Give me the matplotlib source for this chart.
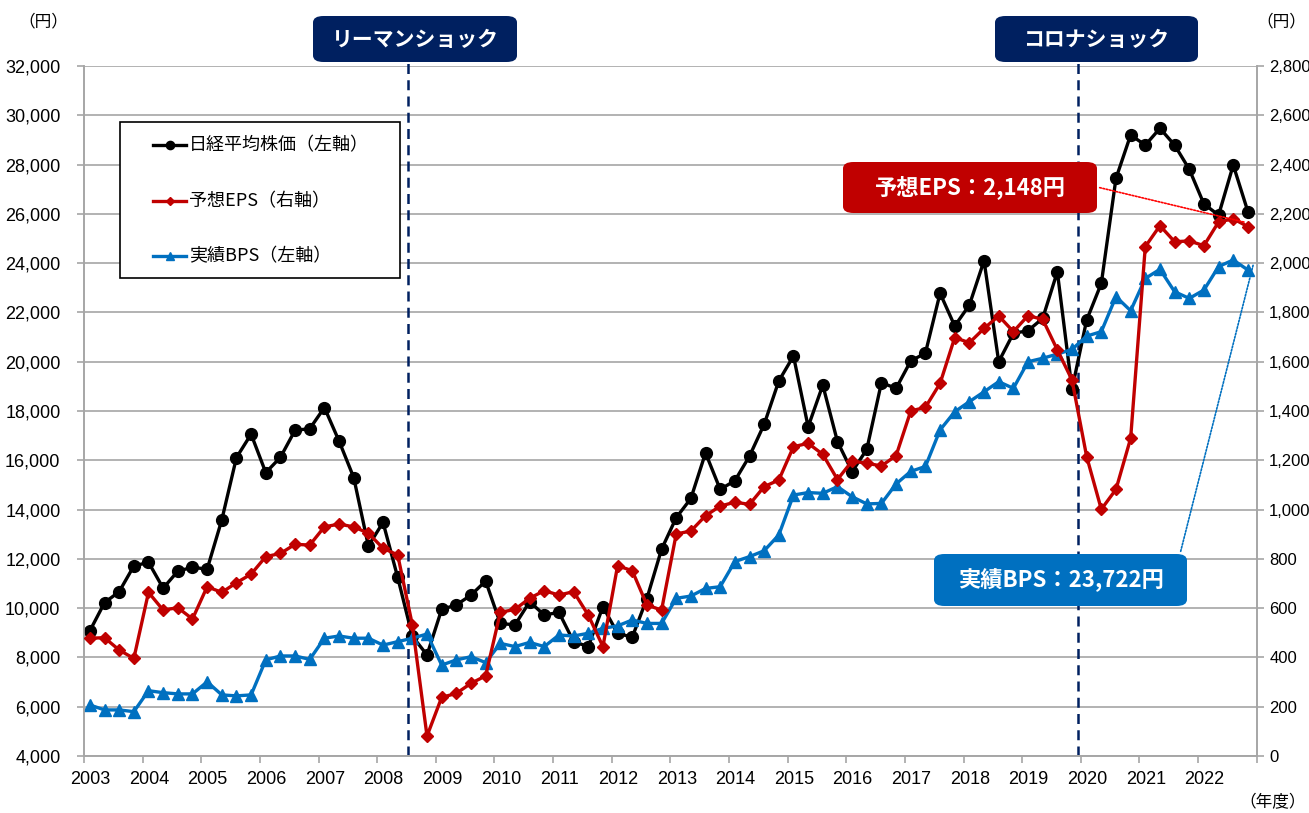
import numpy as np
import matplotlib
matplotlib.use("Agg")
import matplotlib.pyplot as plt
from matplotlib.patches import FancyBboxPatch, Rectangle
from matplotlib.lines import Line2D
from matplotlib.ticker import FuncFormatter, NullFormatter

JP = ['Noto Sans CJK JP', 'DejaVu Sans']
NUM = ['Liberation Sans', 'Noto Sans CJK JP']

# quarterly data, FY2003 - FY2022
nikkei = [9080, 10220, 10670, 11710, 11860, 10810, 11500, 11660, 11580, 13580,
          16110, 17060, 15500, 16120, 17220, 17280, 18140, 16780, 15300, 12520,
          13480, 11250, 8860, 8100, 9950, 10130, 10530, 11100, 9380, 9320,
          10260, 9720, 9830, 8640, 8440, 10060, 8980, 8820, 10390, 12390,
          13670, 14450, 16300, 14820, 15170, 16170, 17460, 19220, 20230, 17360,
          19050, 16760, 15540, 16440, 19150, 18920, 20030, 20350, 22780, 21450,
          22300, 24100, 20000, 21150, 21260, 21760, 23650, 18880, 21690, 23180,
          27440, 29200, 28790, 29470, 28790, 27810, 26400, 25950, 27980, 26090]
eps = [478, 480, 430, 396, 664, 592, 602, 556, 687, 664,
       703, 738, 809, 822, 859, 856, 930, 941, 930, 904,
       843, 816, 532, 81, 238, 254, 295, 325, 583, 595,
       640, 671, 653, 667, 572, 444, 772, 752, 613, 592,
       901, 913, 975, 1014, 1030, 1021, 1093, 1120, 1255, 1269,
       1224, 1122, 1197, 1188, 1177, 1219, 1400, 1415, 1512, 1698,
       1677, 1735, 1786, 1722, 1787, 1772, 1648, 1526, 1215, 1001,
       1082, 1289, 2067, 2152, 2087, 2090, 2071, 2167, 2180, 2148]
bps = [6070, 5870, 5870, 5800, 6650, 6570, 6520, 6520, 7010, 6480,
       6440, 6480, 7900, 8060, 8060, 7920, 8780, 8870, 8780, 8780,
       8500, 8640, 8780, 8950, 7690, 7900, 8030, 7790, 8570, 8440,
       8610, 8440, 8910, 8870, 8980, 9180, 9280, 9520, 9380, 9380,
       10400, 10490, 10800, 10870, 11890, 12090, 12330, 12970, 14590, 14690,
       14660, 14930, 14520, 14230, 14250, 15040, 15550, 15750, 17230, 17970,
       18380, 18780, 19190, 18920, 20000, 20140, 20310, 20500, 21040, 21220,
       22640, 22070, 23380, 23750, 22840, 22570, 22910, 23860, 24130, 23722]
years = list(range(2003, 2023))
x = 2003.1 + 0.25 * np.arange(len(nikkei))

lehman_x = 2008.53
corona_x = 2019.95

W, H = 1309, 813
def fx(px):
    return px / W
def fy(py):
    return 1 - py / H

fig = plt.figure(figsize=(W / 100, H / 100), dpi=100)
ax = fig.add_axes([fx(84), fy(756), (1256.7 - 84) / W, 690 / H])
ax2 = ax.twinx()

gray = '#a6a6a6'
ax.set_xlim(2003, 2023)
ax.set_ylim(4000, 32000)
ax2.set_ylim(0, 2800)
ax.set_yticks(np.arange(4000, 32001, 2000))
ax2.set_yticks(np.arange(0, 2801, 200))
comma = FuncFormatter(lambda v, p: f'{int(v):,}')
ax.yaxis.set_major_formatter(comma)
ax2.yaxis.set_major_formatter(comma)
ax.grid(axis='y', color=gray, lw=1.2, zorder=0)
ax.set_axisbelow(True)

ax.set_xticks(range(2003, 2024))
ax.xaxis.set_major_formatter(NullFormatter())
ax.set_xticks([y + 0.11 for y in years], minor=True)
ax.set_xticklabels([str(y) for y in years], minor=True)
ax.tick_params(axis='x', which='major', length=5, color=gray, width=1.2)
ax.tick_params(axis='x', which='minor', length=0, pad=11, labelsize=13)
ax.tick_params(axis='y', length=5, color=gray, width=1.2, pad=12, labelsize=13)
ax2.tick_params(axis='y', length=5, color=gray, width=1.2, pad=4, labelsize=12)
for a in (ax, ax2):
    for lab in a.get_xticklabels(minor=True) + a.get_yticklabels():
        lab.set_family(NUM)
    for s in ('left', 'right', 'bottom'):
        a.spines[s].set_color(gray)
        a.spines[s].set_linewidth(1.2)
    a.spines['top'].set_visible(False)

for xv in (lehman_x, corona_x):
    ax.axvline(xv, ymin=0, ymax=1.006, color='#002060', lw=1.8,
               dashes=(4, 2.5), clip_on=False, zorder=1)

styles = {
    'nikkei': dict(color='black', marker='o', ms=8.5),
    'eps': dict(color='#C00000', marker='D', ms=6.5),
    'bps': dict(color='#0070C0', marker='^', ms=9),
}
ax.plot(x, nikkei, lw=2.4, zorder=3, **styles['nikkei'])
ax.plot(x, bps, lw=2.4, zorder=4, **styles['bps'])
ax2.plot(x, eps, lw=2.4, zorder=3, **styles['eps'])

# legend box drawn by hand so the handle inset matches
fig.patches.append(Rectangle((fx(120), fy(278)), fx(400) - fx(120), fy(122) - fy(278),
                             transform=fig.transFigure, facecolor='white',
                             edgecolor='black', lw=1.2, zorder=8))
legend_rows = [('日経平均株価（左軸）', 'nikkei', 145),
               ('予想EPS（右軸）', 'eps', 201),
               ('実績BPS（左軸）', 'bps', 256)]
for text, key, py in legend_rows:
    st = dict(styles[key])
    st['ms'] = st['ms'] * 0.7
    fig.lines.append(Line2D([fx(153), fx(186)], [fy(py), fy(py)], lw=2.4,
                            markevery=[], transform=fig.transFigure, zorder=9,
                            color=st['color']))
    fig.lines.append(Line2D([fx(169.5)], [fy(py)], transform=fig.transFigure,
                            zorder=9, ls='none', **st))
    fig.text(fx(189), fy(py), text, family=JP, fontsize=13, ha='left',
             va='center', zorder=9)

def label_box(x0, y0, x1, y1, text, color, size):
    box = FancyBboxPatch((fx(x0), fy(y1)), fx(x1) - fx(x0), fy(y0) - fy(y1),
                         boxstyle='round,pad=0,rounding_size=0.008',
                         transform=fig.transFigure, facecolor=color,
                         edgecolor='none', zorder=10)
    fig.patches.append(box)
    fig.text(fx((x0 + x1) / 2), fy((y0 + y1) / 2), text, color='white',
             fontsize=size, fontweight='bold', family=JP,
             ha='center', va='center', zorder=11)

label_box(313, 16, 517, 62, 'リーマンショック', '#002060', 15)
label_box(995, 16, 1198, 62, 'コロナショック', '#002060', 15)
label_box(843, 162, 1097, 213, '予想EPS：2,148円', '#C00000', 16)
label_box(934, 554, 1187, 606, '実績BPS：23,722円', '#0070C0', 16)

ax2.annotate('', xy=(x[-1], eps[-1] + 15), xycoords='data',
             xytext=(fx(1097), fy(187)), textcoords='figure fraction',
             arrowprops=dict(arrowstyle='-', color='red', lw=1.2,
                             linestyle=(0, (1, 1))), zorder=9)
ax.annotate('', xy=(x[-1] + 0.1, bps[-1] + 300), xycoords='data',
            xytext=(fx(1180), fy(554)), textcoords='figure fraction',
            arrowprops=dict(arrowstyle='-', color='#0070C0', lw=1.2,
                            linestyle=(0, (1, 1))), zorder=9)

fig.text(fx(18), fy(22), '（円）', family=JP, fontsize=12, ha='left', va='center')
fig.text(fx(1306), fy(22), '（円）', family=JP, fontsize=12, ha='right', va='center')
fig.text(fx(1306), fy(803), '（年度）', family=JP, fontsize=12, ha='right', va='center')

fig.savefig('out.png', dpi=100)
